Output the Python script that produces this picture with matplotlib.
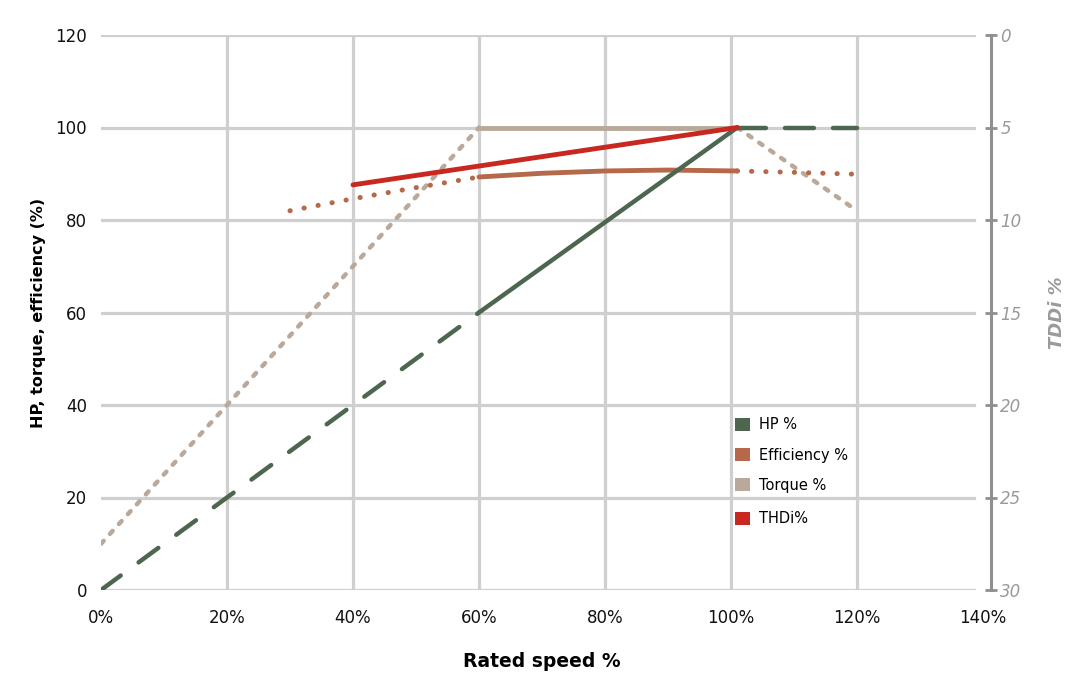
import matplotlib
matplotlib.use("Agg")
import matplotlib.pyplot as plt
from matplotlib.patches import Patch

# ---- data ----
hp_dash1_x = [0, 60]
hp_dash1_y = [0, 60]
hp_solid_x = [60, 101]
hp_solid_y = [60, 100]
hp_dash2_x = [101, 120]
hp_dash2_y = [100, 100]

torque_dot1_x = [0, 60]
torque_dot1_y = [10, 100]
torque_solid_x = [60, 101]
torque_solid_y = [100, 100]
torque_dot2_x = [101, 120]
torque_dot2_y = [100, 82]

eff_dot1_x = [30, 40, 50, 60]
eff_dot1_y = [82, 84.6, 87, 89.3]
eff_solid_x = [60, 70, 80, 90, 101]
eff_solid_y = [89.3, 90.1, 90.6, 90.8, 90.6]
eff_dot2_x = [101, 110, 120]
eff_dot2_y = [90.6, 90.3, 89.9]

thdi_x = [40, 101]
thdi_y = [8.1, 5.0]   # on TDDi % axis (inverted)

x_ticks = [0, 20, 40, 60, 80, 100, 120, 140]
x_tick_labels = ["0%", "20%", "40%", "60%", "80%", "100%", "120%", "140%"]
y_ticks = [0, 20, 40, 60, 80, 100, 120]
y2_ticks = [0, 5, 10, 15, 20, 25, 30]

series_names = ["HP %", "Efficiency %", "Torque %", "THDi%"]

# ---- style ----
C_HP = "#4d6650"
C_EFF = "#b5694a"
C_TQ = "#baa99a"
C_THD = "#c8281f"
C_GRID = "#cfcfcf"
C_AX2 = "#8f8f8f"
FONT = "DejaVu Sans"

plt.rcParams["font.family"] = FONT

fig = plt.figure(figsize=(10.74, 6.88), dpi=100)
L, R, B, T = 101 / 1074, 983 / 1074, (688 - 590) / 688, (688 - 35) / 688
ax = fig.add_axes([L, B, R - L, T - B])
ax.set_xlim(0, 140)
ax.set_ylim(0, 120)
for s in ax.spines.values():
    s.set_visible(False)

for y in y_ticks:
    ax.axhline(y, xmin=0, xmax=0.99, color=C_GRID, lw=2.3, zorder=0)
for x in x_ticks[1:-1]:
    ax.axvline(x, color=C_GRID, lw=2.3, zorder=0)

ax.set_xticks(x_ticks)
ax.set_xticklabels(x_tick_labels)
ax.set_yticks(y_ticks)
ax.tick_params(axis="both", length=0, labelsize=12, colors="#111111")
ax.tick_params(axis="x", pad=14)
ax.tick_params(axis="y", pad=10)
ax.set_xlabel("Rated speed %", fontsize=13.5, fontweight="bold", labelpad=18)
ax.set_ylabel("HP, torque, efficiency (%)", fontsize=11.5, fontweight="bold", labelpad=7)

# torque
ax.plot(torque_dot1_x, torque_dot1_y, color=C_TQ, lw=3.2, dashes=(0.9, 2.1),
        dash_capstyle="round", zorder=2)
ax.plot(torque_solid_x, torque_solid_y, color=C_TQ, lw=3.5, solid_capstyle="butt", zorder=2)
ax.plot(torque_dot2_x, torque_dot2_y, color=C_TQ, lw=3.2, dashes=(0.9, 2.1),
        dash_capstyle="round", zorder=2)
# efficiency
ax.plot(eff_dot1_x, eff_dot1_y, color=C_EFF, lw=3.6, dashes=(0.05, 2.8),
        dash_capstyle="round", zorder=3)
ax.plot(eff_solid_x, eff_solid_y, color=C_EFF, lw=3.5, solid_capstyle="round", zorder=3)
ax.plot(eff_dot2_x, eff_dot2_y, color=C_EFF, lw=3.6, dashes=(0.05, 2.8),
        dash_capstyle="round", zorder=3)
# HP
ax.plot(hp_dash1_x, hp_dash1_y, color=C_HP, lw=3.2, dashes=(5.5, 5.0),
        dash_capstyle="round", zorder=4)
ax.plot(hp_solid_x, hp_solid_y, color=C_HP, lw=3.2, solid_capstyle="round", zorder=4)
ax.plot(hp_dash2_x, hp_dash2_y, color=C_HP, lw=3.2, dashes=(6.5, 4.3),
        dash_capstyle="round", zorder=4)

# right axis
ax2 = ax.twinx()
ax2.set_ylim(30, 0)
ax2.set_xlim(0, 140)
for k in ["left", "top", "bottom"]:
    ax2.spines[k].set_visible(False)
ax2.spines["right"].set_position(("outward", 6))
ax2.spines["right"].set_color(C_AX2)
ax2.spines["right"].set_linewidth(2.2)
ax2.set_yticks(y2_ticks)
ax2.tick_params(axis="y", direction="inout", length=9, width=2, color=C_AX2,
                labelcolor="#9a9a9a", labelsize=12, pad=2)
for t in ax2.get_yticklabels():
    t.set_fontstyle("italic")
ax2.set_ylabel("TDDi %", fontsize=13, fontweight="bold", fontstyle="italic",
               color="#9a9a9a", labelpad=19)
ax2.plot(thdi_x, thdi_y, color=C_THD, lw=3.5, solid_capstyle="round", zorder=5)

# legend
h1 = [Patch(facecolor=c, edgecolor="none") for c in (C_HP, C_EFF, C_TQ)]
leg1 = fig.legend(h1, series_names[:3], loc="upper left",
                  bbox_to_anchor=(728 / 1074, (688 - 410) / 688), frameon=False,
                  fontsize=10.5, handlelength=1.0, handleheight=1.0,
                  handletextpad=0.6, labelspacing=1.05, borderpad=0)
leg2 = fig.legend([Patch(facecolor=C_THD, edgecolor="none")], series_names[3:],
                  loc="upper left", bbox_to_anchor=(728 / 1074, (688 - 504) / 688),
                  frameon=False, fontsize=10.5, handlelength=1.0, handleheight=1.0,
                  handletextpad=0.6, borderpad=0)

fig.savefig("out.png", dpi=100)
